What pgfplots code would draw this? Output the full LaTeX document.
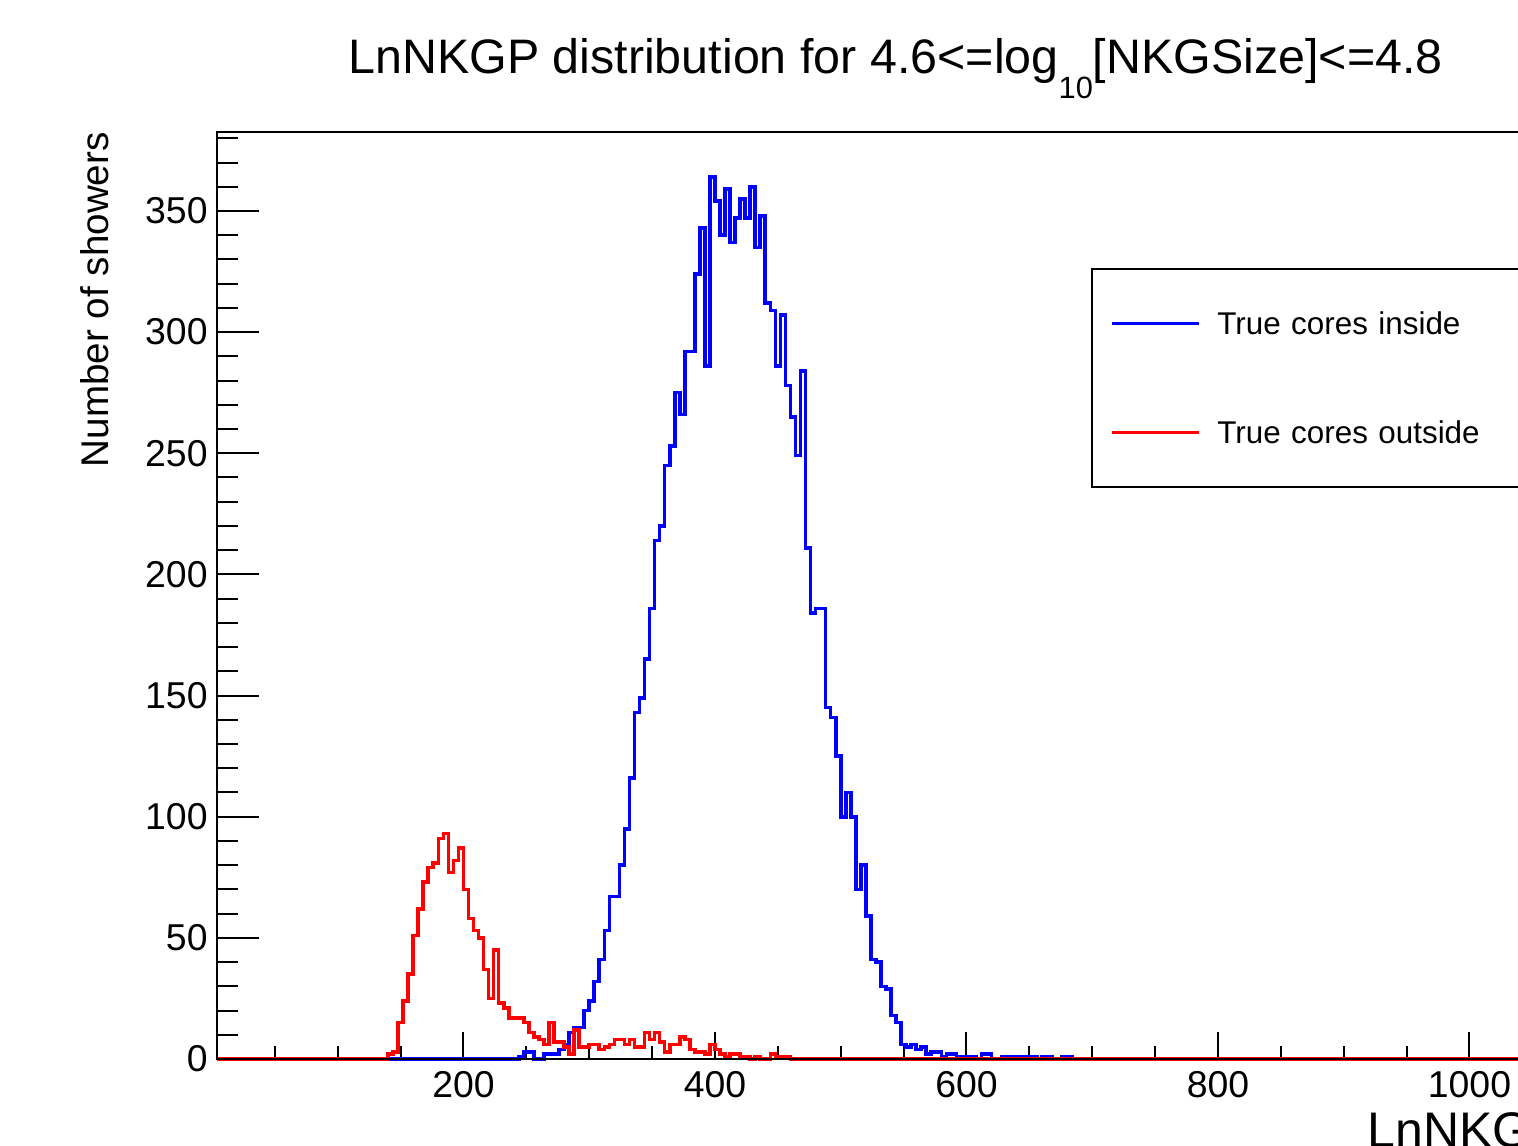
\documentclass[border=0pt]{standalone}
\usepackage{fontspec}
\setmainfont{Liberation Sans}
\usepackage{pgfplots}
\pgfplotsset{compat=1.18}
\usepackage{pgfplotstable}

\pgfplotstableread{
x b r
4 0 0
136 0 0
140 0 2
144 0 3
148 0 15
152 0 24
156 0 35
160 0 51
164 0 62
168 0 73
172 0 79
176 0 81
180 0 91
184 0 93
188 0 77
192 0 82
196 0 87
200 0 70
204 0 58
208 0 53
212 0 50
216 0 37
220 0 25
224 0 45
228 0 23
232 0 21
236 0 17
240 0 17
244 1 17
248 3 15
252 3 11
256 0 9
260 0 8
264 2 6
268 2 15
272 2 7
276 4 7
280 6 5
284 11 2
288 13 12
292 13 5
296 20 5
300 24 6
304 32 6
308 41 4
312 53 5
316 67 6
320 67 8
324 80 8
328 95 6
332 116 8
336 143 5
340 149 5
344 165 11
348 186 8
352 214 11
356 220 7
360 245 3
364 253 6
368 275 6
372 266 9
376 292 8
380 292 4
384 324 3
388 343 3
392 286 2
396 364 6
400 354 4
404 340 2
408 359 1
412 337 2
416 347 2
420 355 1
424 347 1
428 360 0
432 335 1
436 348 0
440 312 0
444 309 2
448 286 1
452 307 1
456 278 1
460 265 0
464 249 0
468 284 0
472 211 0
476 184 0
480 186 0
484 186 0
488 145 0
492 141 0
496 125 0
500 100 0
504 110 0
508 100 0
512 70 0
516 80 0
520 59 0
524 41 0
528 40 0
532 30 0
536 29 0
540 18 0
544 15 0
548 6 0
552 5 0
556 6 0
560 4 0
564 5 0
568 2 0
572 3 0
576 3 0
580 1 0
584 2 0
588 2 0
592 1 0
596 1 0
600 1 0
604 1 0
608 0 0
612 2 0
616 2 0
620 0 0
624 0 0
628 1 0
632 1 0
636 1 0
640 1 0
644 1 0
648 1 0
652 1 0
656 0 0
660 1 0
664 1 0
668 0 0
672 0 0
676 1 0
680 1 0
684 0 0
1070 0 0
}\histdata

\begin{document}
\begin{tikzpicture}
\useasboundingbox (-108.5pt,-43pt) rectangle (650.5pt,529.5pt);
\clip (-108.5pt,-43pt) rectangle (650.5pt,529.5pt);
\begin{axis}[
  at={(0pt,0pt)}, anchor=south west,
  scale only axis, width=670.25pt, height=463.5pt,
  xmin=4, xmax=1070, ymin=0, ymax=382.6,
  clip=false,
  axis line style={line width=1pt},
  xtick={200,400,600,800,1000},
  xticklabels={200,400,600,800,1000},
  minor xtick={50,100,150,250,300,350,450,500,550,650,700,750,850,900,950,1050},
  ytick=\empty,
  xtick pos=bottom, tick align=inside,
  major tick length=13.5pt, minor tick length=6.75pt,
  every tick/.style={black, line width=1pt},
  xticklabel style={font=\fontsize{18.7}{20}\selectfont, inner sep=0pt, yshift=-6pt},
  xlabel={LnNKGP},
  xlabel style={at={(axis description cs:1,-0.096)}, anchor=base east, inner sep=0pt, xshift=4pt, font=\fontsize{25}{27}\selectfont},
  title={LnNKGP distribution for 4.6<=log\raisebox{-12.5pt}{\fontsize{15.4}{16}\selectfont 10}[NKGSize]<=4.8},
  title style={at={(axis description cs:0.5062,1.0497)}, anchor=base, inner sep=0pt, font=\fontsize{24.2}{26}\selectfont},
  legend style={at={(axis description cs:0.6518,0.8533)}, anchor=north west, draw=black, line width=1pt,
    inner xsep=9pt, inner ysep=0pt, row sep=0pt, column sep=8.5pt,
    font=\fontsize{15.7}{17}\selectfont,
    nodes={inner sep=0pt, minimum height=54.5pt, text width=170pt, align=left, text height=11.3pt, text depth=0pt}},
  legend cell align=left,
  legend image code/.code={\draw[#1] (0pt,0pt) -- (43.5pt,0pt);},
]
\addplot[blue, line width=1.8pt, const plot, forget plot] table[x=x, y=b] {\histdata};
\addplot[red, line width=1.8pt, const plot, forget plot] table[x=x, y=r] {\histdata};
\addlegendimage{blue, line width=1.8pt}
\addlegendentry{True cores inside}
\addlegendimage{red, line width=1.8pt}
\addlegendentry{True cores outside}
\end{axis}
\begin{axis}[
  at={(0pt,0pt)}, anchor=south west,
  scale only axis, width=670.25pt, height=463.5pt,
  xmin=4, xmax=1070, ymin=0, ymax=382.6,
  axis line style={line width=1pt},
  xtick=\empty,
  ytick={0,50,100,150,200,250,300,350},
  yticklabels={0,50,100,150,200,250,300,350},
  minor ytick={0,10,...,380},
  ytick pos=left, tick align=inside,
  major tick length=21pt, minor tick length=10.5pt,
  every tick/.style={black, line width=1pt},
  yticklabel style={font=\fontsize{18.7}{20}\selectfont, inner sep=0pt, xshift=-4.5pt},
  ylabel={Number of showers},
  ylabel style={at={(axis description cs:-0.0813,1)}, anchor=base east, inner sep=0pt, font=\fontsize{19.3}{21}\selectfont},
]
\end{axis}
\end{tikzpicture}
\end{document}
